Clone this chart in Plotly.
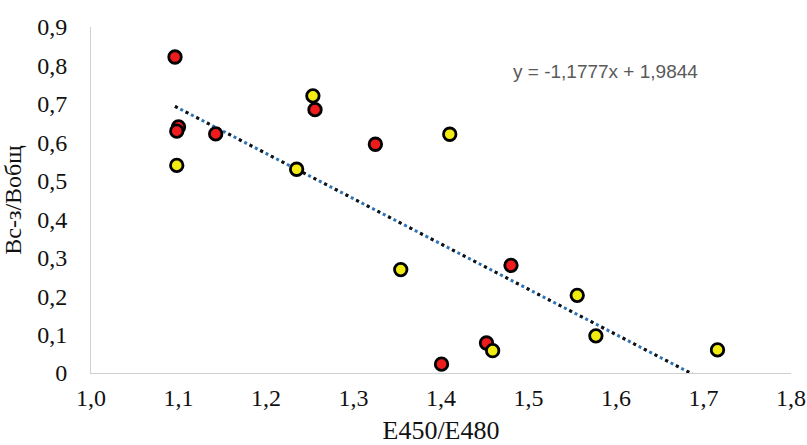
import plotly.graph_objects as go

# Data
red_x = [1.096, 1.100, 1.098, 1.1425, 1.256, 1.325, 1.480, 1.4006, 1.452]
red_y = [0.822, 0.640, 0.629, 0.622, 0.685, 0.595, 0.280, 0.023, 0.078]
yellow_x = [1.098, 1.235, 1.2536, 1.410, 1.354, 1.5557, 1.577, 1.459, 1.716]
yellow_y = [0.540, 0.530, 0.721, 0.621, 0.269, 0.202, 0.0966, 0.058, 0.060]

slope = -1.1777
intercept = 1.9844
equation_text = "y = -1,1777x + 1,9844"

x_tickvals = [1.0, 1.1, 1.2, 1.3, 1.4, 1.5, 1.6, 1.7, 1.8]
x_ticktext = ["1,0", "1,1", "1,2", "1,3", "1,4", "1,5", "1,6", "1,7", "1,8"]
y_tickvals = [0, 0.1, 0.2, 0.3, 0.4, 0.5, 0.6, 0.7, 0.8, 0.9]
y_ticktext = ["0", "0,1", "0,2", "0,3", "0,4", "0,5", "0,6", "0,7", "0,8", "0,9"]

x_title = "E450/E480"
y_title = "Вс-з/Вобщ"

all_x = red_x + yellow_x
tx = [min(all_x), max(all_x)]
ty = [slope * v + intercept for v in tx]

fig = go.Figure()
fig.add_trace(go.Scatter(x=tx, y=ty, mode="lines",
                         line=dict(color="#2f75b5", width=3, dash="dot"),
                         hoverinfo="skip", showlegend=False))
fig.add_trace(go.Scatter(x=tx, y=ty, mode="lines",
                         line=dict(color="#111111", width=3, dash="3px,9px"),
                         hoverinfo="skip", showlegend=False))

marker_common = dict(size=12.5, line=dict(color="black", width=2.8))
fig.add_trace(go.Scatter(x=red_x, y=red_y, mode="markers",
                         marker=dict(color="#ee1c1c", **marker_common),
                         showlegend=False))
fig.add_trace(go.Scatter(x=yellow_x, y=yellow_y, mode="markers",
                         marker=dict(color="#f2eb12", **marker_common),
                         showlegend=False))

fig.add_annotation(x=1.588, y=0.783, xref="x", yref="y", text=equation_text,
                   showarrow=False,
                   font=dict(family="Liberation Sans", size=19, color="#595959"))

serif = "Liberation Serif"
fig.update_layout(
    width=807, height=445,
    margin=dict(l=91, r=16, t=27, b=72, autoexpand=False),
    paper_bgcolor="white", plot_bgcolor="white",
    font=dict(family=serif, color="#111111"),
    xaxis=dict(range=[1.0, 1.8], tickvals=x_tickvals, ticktext=x_ticktext,
               showgrid=False, zeroline=False, showline=True,
               linecolor="#d0d0d0", linewidth=1, ticks="",
               tickfont=dict(family=serif, size=24, color="#111111"),
               ticklabelstandoff=3, automargin=False, ticklabeloverflow="allow",
               title=dict(text=x_title, font=dict(family=serif, size=26, color="#111111"),
                          standoff=11)),
    yaxis=dict(range=[0, 0.9], tickvals=y_tickvals, ticktext=y_ticktext,
               showgrid=False, zeroline=False, showline=True,
               linecolor="#d0d0d0", linewidth=1, ticks="",
               tickfont=dict(family=serif, size=24, color="#111111"),
               ticklabelstandoff=18, automargin=False, ticklabeloverflow="allow",
               title=dict(text=y_title, font=dict(family=serif, size=24, color="#111111"),
                          standoff=8)),
)

fig.write_html("out.html", config={"displayModeBar": False},
               post_script="document.body.style.margin='0';")
